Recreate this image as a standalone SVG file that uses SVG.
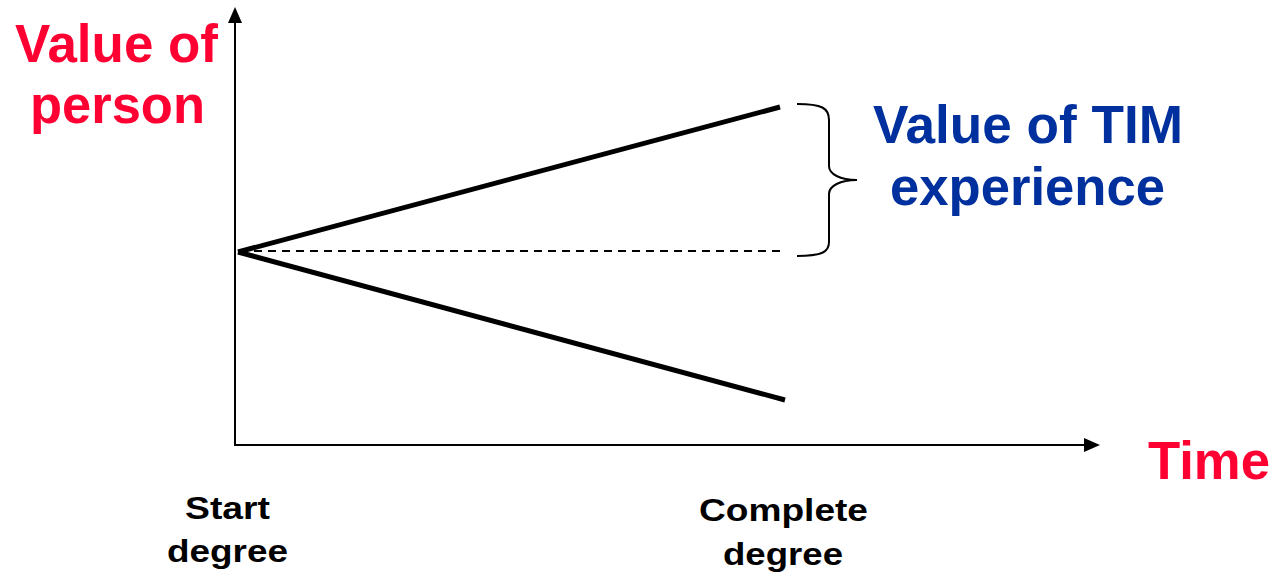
<svg xmlns="http://www.w3.org/2000/svg" width="1274" height="572" viewBox="0 0 1274 572">
<style>
.t{font-family:"Liberation Sans",Arial,sans-serif;font-weight:bold}
.red{fill:#ff0033}
.blue{fill:#002f9e}
.blk{fill:#000}
.big{font-size:54px}
.sm{font-size:32px}
</style>
<rect width="1274" height="572" fill="#fff"/>
<g id="axes">
<line x1="235" y1="446" x2="235" y2="22" stroke="#000" stroke-width="2"/>
<polygon points="235,7 228,23 242,23" fill="#000"/>
<line x1="234" y1="445" x2="1085" y2="445" stroke="#000" stroke-width="2"/>
<polygon points="1100,445 1084,438 1084,452" fill="#000"/>
</g>
<g id="connectors">
<line x1="238" y1="252" x2="780" y2="107" stroke="#000" stroke-width="5"/>
<line x1="238" y1="252" x2="785" y2="400" stroke="#000" stroke-width="5"/>
<line x1="240" y1="251" x2="785" y2="251" stroke="#000" stroke-width="2" stroke-dasharray="8,6"/>
<path d="M797,104 C822,104 829,108 829,120 L829,166 C829,174 840,180 857,180 C840,180 829,186 829,194 L829,242 C829,252 822,256 797,256" fill="none" stroke="#000" stroke-width="2"/>
</g>
<g id="ylabel">
<text class="t red big" x="116.5" y="62" text-anchor="middle" textLength="203" lengthAdjust="spacingAndGlyphs">Value of</text>
<text class="t red big" x="117.5" y="123" text-anchor="middle" textLength="175" lengthAdjust="spacingAndGlyphs">person</text>
</g>
<g id="tim">
<text class="t blue big" x="1028" y="143" text-anchor="middle" textLength="310" lengthAdjust="spacingAndGlyphs">Value of TIM</text>
<text class="t blue big" x="1027.5" y="205" text-anchor="middle" textLength="275" lengthAdjust="spacingAndGlyphs">experience</text>
</g>
<g id="xlabel">
<text class="t red big" x="1209" y="479" text-anchor="middle" textLength="122" lengthAdjust="spacingAndGlyphs">Time</text>
</g>
<g id="start">
<text class="t blk sm" x="227.5" y="519" text-anchor="middle" textLength="85" lengthAdjust="spacingAndGlyphs">Start</text>
<text class="t blk sm" x="227.5" y="562" text-anchor="middle" textLength="121" lengthAdjust="spacingAndGlyphs">degree</text>
</g>
<g id="complete">
<text class="t blk sm" x="783.5" y="521" text-anchor="middle" textLength="169" lengthAdjust="spacingAndGlyphs">Complete</text>
<text class="t blk sm" x="783" y="565" text-anchor="middle" textLength="120" lengthAdjust="spacingAndGlyphs">degree</text>
</g>
</svg>
